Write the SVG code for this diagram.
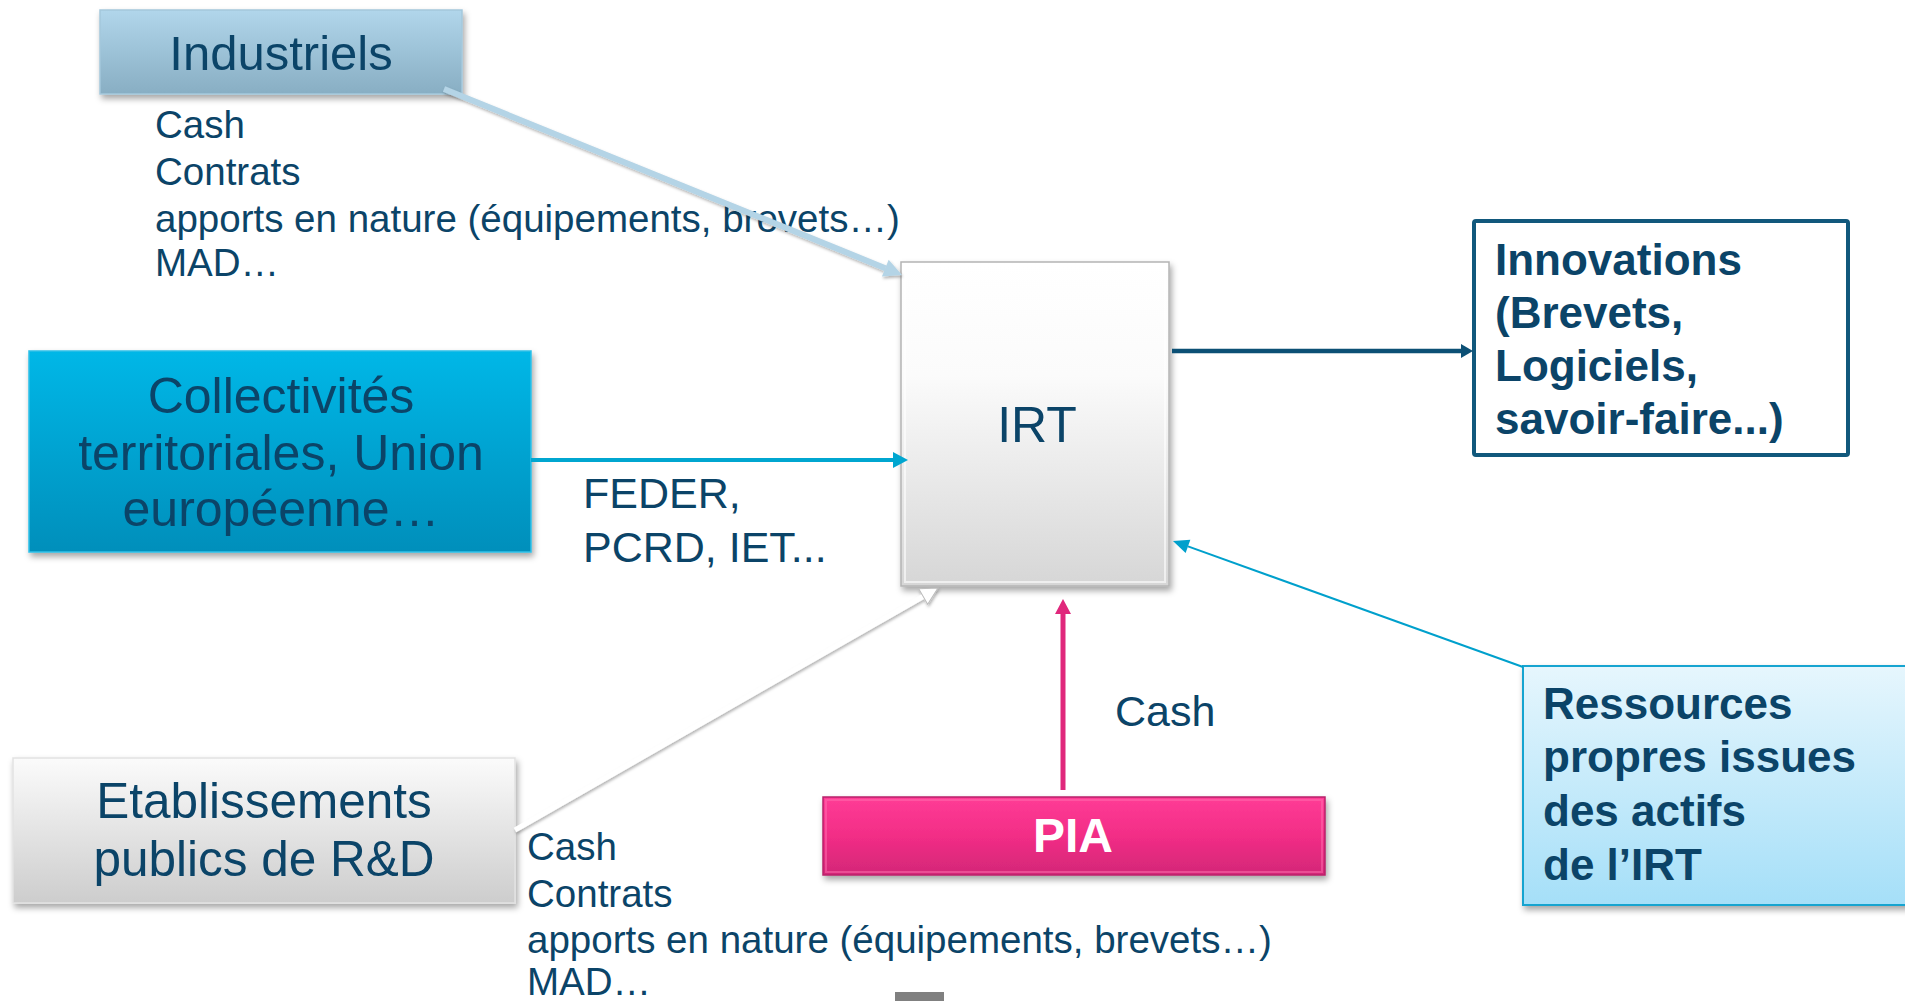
<svg xmlns="http://www.w3.org/2000/svg" width="1905" height="1001" viewBox="0 0 1905 1001">
  <style>
    text { font-family: "Liberation Sans", Arial, sans-serif; fill: #0b4468; }
    .title { font-size: 49px; text-anchor: middle; }
    .lbl { font-size: 38.5px; }
    .lbl2 { font-size: 43px; }
    .bold { font-weight: bold; font-size: 44px; }
  </style>
  <defs>
    <linearGradient id="gInd" x1="0" y1="0" x2="0" y2="1">
      <stop offset="0" stop-color="#b1d6eb"/>
      <stop offset="1" stop-color="#88aec3"/>
    </linearGradient>
    <linearGradient id="gCol" x1="0" y1="0" x2="0" y2="1">
      <stop offset="0" stop-color="#00b7e7"/>
      <stop offset="1" stop-color="#008fbb"/>
    </linearGradient>
    <linearGradient id="gIrt" x1="0" y1="0" x2="0" y2="1">
      <stop offset="0" stop-color="#ffffff"/>
      <stop offset="0.35" stop-color="#fbfbfb"/>
      <stop offset="1" stop-color="#d6d6d6"/>
    </linearGradient>
    <linearGradient id="gEta" x1="0" y1="0" x2="0" y2="1">
      <stop offset="0" stop-color="#fbfbfb"/>
      <stop offset="1" stop-color="#cdcdcd"/>
    </linearGradient>
    <linearGradient id="gPia" x1="0" y1="0" x2="0" y2="1">
      <stop offset="0" stop-color="#ff3c96"/>
      <stop offset="0.5" stop-color="#f22d86"/>
      <stop offset="1" stop-color="#d32777"/>
    </linearGradient>
    <linearGradient id="gRes" x1="0" y1="0" x2="0" y2="1">
      <stop offset="0" stop-color="#e6f6fd"/>
      <stop offset="1" stop-color="#a5dff8"/>
    </linearGradient>
    <filter id="shadow" x="-10%" y="-10%" width="120%" height="130%">
      <feDropShadow dx="2" dy="4" stdDeviation="3" flood-color="#000" flood-opacity="0.35"/>
    </filter>
    <filter id="lineShadow" x="-10%" y="-10%" width="120%" height="130%">
      <feDropShadow dx="1" dy="2" stdDeviation="1.5" flood-color="#000" flood-opacity="0.3"/>
    </filter>
    <marker id="mInd" markerUnits="userSpaceOnUse" orient="auto" overflow="visible" markerWidth="1" markerHeight="1">
      <path d="M0,-9 L18,0 L0,9 Z" fill="#b4d4e6"/>
    </marker>
    <marker id="mCol" markerUnits="userSpaceOnUse" orient="auto" overflow="visible" markerWidth="1" markerHeight="1">
      <path d="M0,-8 L15,0 L0,8 Z" fill="#00a6d0"/>
    </marker>
    <marker id="mInn" markerUnits="userSpaceOnUse" orient="auto" overflow="visible" markerWidth="1" markerHeight="1">
      <path d="M0,-7 L12,0 L0,7 Z" fill="#0c5075"/>
    </marker>
    <marker id="mRes" markerUnits="userSpaceOnUse" orient="auto" overflow="visible" markerWidth="1" markerHeight="1">
      <path d="M0,-7 L16,0 L0,7 Z" fill="#00a0cc"/>
    </marker>
    <marker id="mEta" markerUnits="userSpaceOnUse" orient="auto" overflow="visible" markerWidth="1" markerHeight="1">
      <path d="M0,-9 L17,0 L0,9 Z" fill="#ffffff" stroke="#bdbdbd" stroke-width="1"/>
    </marker>
    <marker id="mPia" markerUnits="userSpaceOnUse" orient="auto" overflow="visible" markerWidth="1" markerHeight="1">
      <path d="M0,-8 L15,0 L0,8 Z" fill="#e0287c"/>
    </marker>
  </defs>

  <rect x="0" y="0" width="1905" height="1001" fill="#ffffff"/>

  <!-- Nodes -->
  <g id="industriels">
    <rect x="100" y="10" width="362" height="84" fill="url(#gInd)" stroke="#a4c8dc" stroke-width="1.5" filter="url(#shadow)"/>
    <text class="title" x="281" y="70">Industriels</text>
  </g>

  <g id="industriels-apports">
    <text class="lbl" x="155" y="138">Cash</text>
    <text class="lbl" x="155" y="185">Contrats</text>
    <text class="lbl" x="155" y="232">apports en nature (équipements, brevets…)</text>
    <text class="lbl" x="155" y="276">MAD…</text>
  </g>

  <g id="collectivites">
    <rect x="29" y="351" width="502" height="201" fill="url(#gCol)" stroke="#2cc0e8" stroke-width="1.5" filter="url(#shadow)"/>
    <text class="title" x="281" y="413" style="font-size:50px">Collectivités</text>
    <text class="title" x="281" y="470" style="font-size:50px">territoriales, Union</text>
    <text class="title" x="281" y="526" style="font-size:50px">européenne…</text>
  </g>

  <g id="collectivites-apports">
    <text class="lbl2" x="583" y="508">FEDER,</text>
    <text class="lbl2" x="583" y="562">PCRD, IET...</text>
  </g>

  <g id="irt">
    <rect x="901" y="262" width="268" height="324" fill="url(#gIrt)" stroke="#b4b4b4" stroke-width="1.5" filter="url(#shadow)"/>
    <rect x="905" y="266" width="260" height="316" fill="none" stroke="#ffffff" stroke-opacity="0.6" stroke-width="2"/>
    <text class="title" x="1037" y="442" style="font-size:50px">IRT</text>
  </g>

  <g id="innovations">
    <rect x="1474" y="221" width="374" height="234" rx="2" fill="#ffffff" stroke="#11587c" stroke-width="4"/>
    <text class="bold" x="1495" y="275">Innovations</text>
    <text class="bold" x="1495" y="328">(Brevets,</text>
    <text class="bold" x="1495" y="381">Logiciels,</text>
    <text class="bold" x="1495" y="434">savoir-faire...)</text>
  </g>

  <g id="ressources">
    <rect x="1523" y="666" width="390" height="239" fill="url(#gRes)" stroke="#15a4d0" stroke-width="2" filter="url(#shadow)"/>
    <text class="bold" x="1543" y="719">Ressources</text>
    <text class="bold" x="1543" y="772">propres issues</text>
    <text class="bold" x="1543" y="826">des actifs</text>
    <text class="bold" x="1543" y="880">de l’IRT</text>
  </g>

  <g id="etablissements">
    <rect x="13" y="758" width="502" height="145" fill="url(#gEta)" stroke="#e2e2e2" stroke-width="1.5" filter="url(#shadow)"/>
    <text class="title" x="264" y="818" style="font-size:49.5px">Etablissements</text>
    <text class="title" x="264" y="876" style="font-size:49.5px">publics de R&amp;D</text>
  </g>

  <g id="etablissements-apports">
    <text class="lbl" x="527" y="860">Cash</text>
    <text class="lbl" x="527" y="907">Contrats</text>
    <text class="lbl" x="527" y="953">apports en nature (équipements, brevets…)</text>
    <text class="lbl" x="527" y="995">MAD…</text>
  </g>

  <g id="pia">
    <rect x="823" y="797" width="502" height="78" fill="url(#gPia)" stroke="#b8226a" stroke-width="1.5" filter="url(#shadow)"/>
    <rect x="826" y="800" width="496" height="72" fill="none" stroke="#ff6fb0" stroke-opacity="0.5" stroke-width="2"/>
    <text x="1073" y="852" style="font-size:48px;font-weight:bold;fill:#ffffff;text-anchor:middle">PIA</text>
  </g>

  <g id="pia-apports">
    <text class="lbl2" x="1115" y="726">Cash</text>
  </g>

  <!-- page marker at the bottom edge -->
  <rect x="895" y="992" width="49" height="9" fill="#808080"/>

  <!-- Connectors -->
  <g id="connectors" fill="none">
    <line x1="444" y1="89" x2="885.3" y2="268.2" stroke="#b4d4e6" stroke-width="6" marker-end="url(#mInd)" filter="url(#lineShadow)"/>
    <line x1="531" y1="460" x2="893" y2="460" stroke="#00a6d0" stroke-width="4" marker-end="url(#mCol)"/>
    <line x1="1172" y1="351" x2="1461" y2="351" stroke="#0c5075" stroke-width="4.5" marker-end="url(#mInn)"/>
    <line x1="1523" y1="667" x2="1188" y2="546.4" stroke="#00a0cc" stroke-width="2" marker-end="url(#mRes)"/>
    <g filter="url(#lineShadow)">
      <line x1="515" y1="830" x2="923.2" y2="596.5" stroke="#ffffff" stroke-width="5" marker-end="url(#mEta)"/>
    </g>
    <line x1="1063" y1="790" x2="1063" y2="614" stroke="#e0287c" stroke-width="5" marker-end="url(#mPia)"/>
  </g>
</svg>
